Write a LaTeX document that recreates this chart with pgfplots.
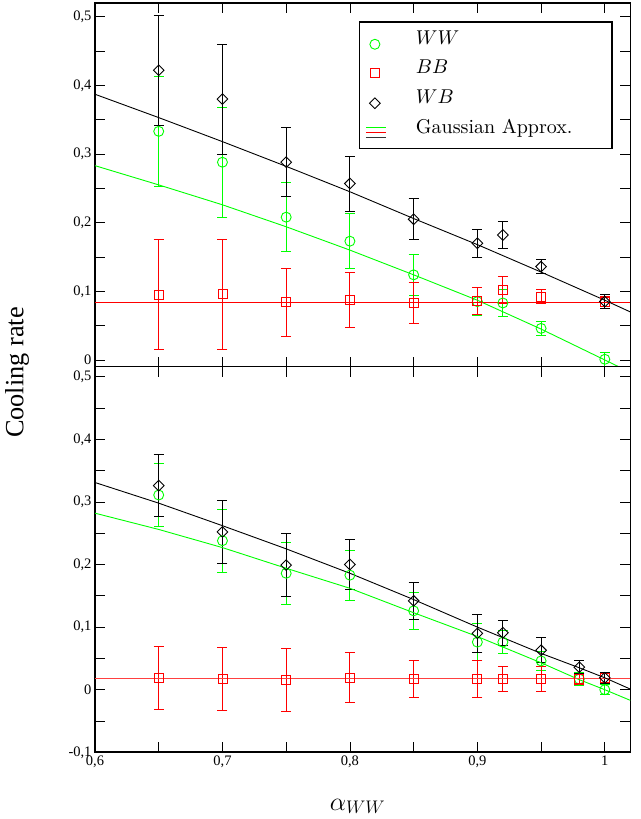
\RequirePackage{fix-cm}
\documentclass[border=0pt]{standalone}
\usepackage{fontspec}
\setmainfont{Liberation Serif}
\newfontfamily\lmr{Latin Modern Roman}
\usepackage{pgfplots}
\pgfplotsset{compat=1.18}
\usepackage{pgfplotstable}

\pgfdeclareplotmark{rdiamond}{%
  \pgfpathmoveto{\pgfqpoint{0pt}{\pgfplotmarksize}}%
  \pgfpathlineto{\pgfqpoint{\pgfplotmarksize}{0pt}}%
  \pgfpathlineto{\pgfqpoint{0pt}{-\pgfplotmarksize}}%
  \pgfpathlineto{\pgfqpoint{-\pgfplotmarksize}{0pt}}%
  \pgfpathclose\pgfusepathqstroke}

\pgfplotstableread{
x y e
0.65 0.333 0.080
0.70 0.288 0.080
0.75 0.208 0.050
0.80 0.173 0.040
0.85 0.124 0.030
0.90 0.085 0.020
0.92 0.083 0.020
0.95 0.046 0.010
1.00 0.001 0.010
}\topWW
\pgfplotstableread{
x y e
0.65 0.095 0.080
0.70 0.096 0.080
0.75 0.084 0.050
0.80 0.087 0.040
0.85 0.083 0.030
0.90 0.086 0.020
0.92 0.102 0.020
0.95 0.092 0.010
1.00 0.085 0.007
}\topBB
\pgfplotstableread{
x y e
0.65 0.422 0.080
0.70 0.380 0.080
0.75 0.288 0.050
0.80 0.257 0.040
0.85 0.205 0.030
0.90 0.170 0.020
0.92 0.182 0.020
0.95 0.136 0.010
1.00 0.085 0.010
}\topWB
\pgfplotstableread{
x y
0.60 0.283
0.65 0.255
0.70 0.226
0.75 0.194
0.80 0.160
0.85 0.124
0.90 0.087
0.95 0.045
1.00 0.000
1.02 -0.018
}\topG
\pgfplotstableread{
x y
0.60 0.387
0.65 0.353
0.70 0.318
0.75 0.282
0.80 0.245
0.85 0.206
0.90 0.168
0.95 0.128
1.00 0.087
1.02 0.070
}\topK
\pgfplotstableread{
x y
0.60 0.084
1.02 0.084
}\topR
\pgfplotstableread{
x y e
0.65 0.311 0.050
0.70 0.238 0.050
0.75 0.186 0.050
0.80 0.183 0.040
0.85 0.126 0.030
0.90 0.076 0.030
0.92 0.076 0.018
0.95 0.046 0.015
0.98 0.017 0.010
1.00 0.000 0.008
}\botWW
\pgfplotstableread{
x y e
0.65 0.019 0.050
0.70 0.017 0.050
0.75 0.016 0.050
0.80 0.019 0.040
0.85 0.017 0.030
0.90 0.017 0.030
0.92 0.017 0.020
0.95 0.017 0.020
0.98 0.017 0.008
1.00 0.019 0.008
}\botBB
\pgfplotstableread{
x y e
0.65 0.326 0.050
0.70 0.252 0.050
0.75 0.199 0.050
0.80 0.200 0.040
0.85 0.142 0.030
0.90 0.090 0.030
0.92 0.091 0.020
0.95 0.063 0.020
0.98 0.036 0.010
1.00 0.019 0.009
}\botWB
\pgfplotstableread{
x y
0.60 0.282
0.65 0.256
0.70 0.227
0.75 0.194
0.80 0.162
0.85 0.123
0.90 0.085
0.95 0.043
0.98 0.016
1.00 0.000
1.02 -0.017
}\botG
\pgfplotstableread{
x y
0.60 0.331
0.65 0.298
0.70 0.262
0.75 0.225
0.80 0.186
0.85 0.144
0.90 0.100
0.95 0.058
0.98 0.035
1.00 0.019
1.02 0.001
}\botK
\pgfplotstableread{
x y
0.60 0.0176
1.02 0.0176
}\botR

\definecolor{gg}{RGB}{0,255,0}
\definecolor{rr}{RGB}{255,0,0}

\pgfplotsset{
  panel/.style={
    scale only axis, width=535.3pt,
    xmin=0.6, xmax=1.02,
    xtick={0.6,0.7,0.8,0.9,1}, minor xtick={0.65,0.75,0.85,0.95},
    tick align=inside, tick pos=both,
    major tick length=10pt, minor tick length=10pt,
    every tick/.style={black, line width=0.8pt},
    axis line style={line width=1.6pt},
    tick label style={font=\fontsize{14.5}{17}\selectfont},
    /pgf/number format/use comma,
    /pgf/number format/assume math mode=true,
    clip=true,
  },
  errs/.style={
    error bars/y dir=both, error bars/y explicit,
    error bars/error bar style={line width=0.9pt},
    error bars/error mark options={rotate=90, mark size=5pt, line width=0.9pt}},
  ww/.style={only marks, mark=o, color=gg, mark size=5pt, line width=0.9pt, errs},
  bb/.style={only marks, mark=square, color=rr, mark size=4.5pt, line width=0.9pt, errs},
  wb/.style={only marks, mark=rdiamond, color=black, mark size=5.3pt, line width=0.9pt, errs},
}
\tikzset{legtext/.style={anchor=base west, inner sep=0pt, scale=2, font=\lmr}}

\begin{document}
\begin{tikzpicture}
\path[use as bounding box] (0pt,0pt) rectangle (640pt,819pt);

% top panel
\begin{axis}[panel, at={(95pt,452.3pt)}, anchor=south west,
  height=363.4pt, ymin=-0.0098, ymax=0.5195,
  ytick={0,0.1,0.2,0.3,0.4,0.5}, minor ytick={0.05,0.15,0.25,0.35,0.45},
  xticklabels={}]
\addplot[ww] table[x=x, y=y, y error=e] {\topWW};
\addplot[bb] table[x=x, y=y, y error=e] {\topBB};
\addplot[wb] table[x=x, y=y, y error=e] {\topWB};
\addplot[gg, line width=0.9pt, no marks] table[x=x, y=y] {\topG};
\addplot[rr, line width=0.9pt, no marks] table[x=x, y=y] {\topR};
\addplot[black, line width=0.9pt, no marks] table[x=x, y=y] {\topK};
% legend
\draw[black, line width=1.2pt, fill=white] (axis cs:0.8073,0.4923) rectangle (axis cs:1.0057,0.3083);
\addplot[only marks, mark=o, color=gg, mark size=5pt, line width=0.9pt] coordinates {(0.8196,0.4598)};
\addplot[only marks, mark=square, color=rr, mark size=4.5pt, line width=0.9pt] coordinates {(0.8196,0.4176)};
\addplot[only marks, mark=rdiamond, color=black, mark size=5.3pt, line width=0.9pt] coordinates {(0.8196,0.3739)};
\addplot[gg, line width=0.9pt, no marks] coordinates {(0.8125,0.3389) (0.8282,0.3389)};
\addplot[rr, line width=0.9pt, no marks] coordinates {(0.8125,0.3311) (0.8282,0.3311)};
\addplot[black!80, line width=0.9pt, no marks] coordinates {(0.8125,0.3238) (0.8282,0.3238)};
\node[legtext] at (axis cs:0.8515,0.4588) {$WW$};
\node[legtext] at (axis cs:0.8515,0.4166) {$BB$};
\node[legtext] at (axis cs:0.8515,0.3729) {$WB$};
\node[legtext] at (axis cs:0.8515,0.3292) {Gaussian Approx.};
\end{axis}

% bottom panel
\begin{axis}[panel, at={(95pt,66.7pt)}, anchor=south west,
  height=385.6pt, ymin=-0.1, ymax=0.516,
  ytick={-0.1,0,0.1,0.2,0.3,0.4,0.5}, minor ytick={-0.05,0.05,0.15,0.25,0.35,0.45}]
\addplot[ww] table[x=x, y=y, y error=e] {\botWW};
\addplot[bb] table[x=x, y=y, y error=e] {\botBB};
\addplot[wb] table[x=x, y=y, y error=e] {\botWB};
\addplot[gg, line width=0.9pt, no marks] table[x=x, y=y] {\botG};
\addplot[rr!75, line width=0.9pt, no marks] table[x=x, y=y] {\botR};
\addplot[black, line width=0.9pt, no marks] table[x=x, y=y] {\botK};
\end{axis}

\node[anchor=base, inner sep=0pt, font=\fontsize{26}{30}\selectfont] at (357.5pt,9pt) {$\alpha_{WW}$};
\node[rotate=90, anchor=base, font=\fontsize{26.3}{30}\selectfont] at (23.5pt,446.5pt) {Cooling rate};
\end{tikzpicture}
\end{document}
